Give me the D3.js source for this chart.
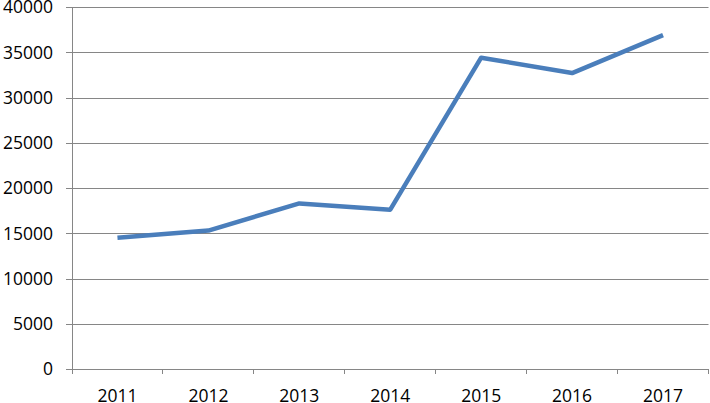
<!DOCTYPE html>
<html>
<head>
<meta charset="utf-8">
<script src="https://cdn.jsdelivr.net/npm/d3@7"></script>
<style>
  html, body { margin: 0; padding: 0; background: #fff; }
  svg { display: block; }
  text { font-family: "Open Sans", sans-serif; fill: #000; }
</style>
</head>
<body>
<svg id="chart" width="710" height="403"></svg>
<script>
// data
var years = ["2011", "2012", "2013", "2014", "2015", "2016", "2017"];
var values = [14500, 15300, 18300, 17600, 34400, 32700, 36900];
var yTicks = [0, 5000, 10000, 15000, 20000, 25000, 30000, 35000, 40000];

function plot() {
  var svg = d3.select("#chart");
  var mLeft = 72, mRight = 708.5, mTop = 7, mBottom = 369;

  var x = d3.scaleBand().domain(years).range([mLeft, mRight]);
  var y = d3.scaleLinear().domain([0, 40000]).range([mBottom, mTop]);

  // gridlines
  svg.append("g")
    .selectAll("line")
    .data(yTicks)
    .enter()
    .append("line")
    .attr("x1", mLeft - 6)
    .attr("x2", mRight)
    .attr("y1", function(d) { return Math.round(y(d)) + 0.5; })
    .attr("y2", function(d) { return Math.round(y(d)) + 0.5; })
    .attr("stroke", "#868686")
    .attr("stroke-width", 1);

  // y axis line
  svg.append("line")
    .attr("x1", mLeft + 0.5).attr("x2", mLeft + 0.5)
    .attr("y1", mTop).attr("y2", mBottom + 5)
    .attr("stroke", "#868686");

  // x ticks at band boundaries
  var bounds = years.map(function(d) { return x(d); }).concat([mRight]);
  svg.append("g")
    .selectAll("line")
    .data(bounds.slice(1))
    .enter()
    .append("line")
    .attr("x1", function(d) { return Math.round(d) - 0.5; })
    .attr("x2", function(d) { return Math.round(d) - 0.5; })
    .attr("y1", mBottom)
    .attr("y2", mBottom + 5)
    .attr("stroke", "#868686");

  // y labels
  svg.append("g")
    .selectAll("text")
    .data(yTicks)
    .enter()
    .append("text")
    .attr("x", 53)
    .attr("y", function(d) { return y(d); })
    .attr("dy", "0.36em")
    .attr("text-anchor", "end")
    .style("font-size", "17.5px")
    .text(function(d) { return d; });

  // x labels
  svg.append("g")
    .selectAll("text")
    .data(years)
    .enter()
    .append("text")
    .attr("x", function(d) { return x(d) + x.bandwidth() / 2; })
    .attr("y", 401.5)
    .attr("text-anchor", "middle")
    .style("font-size", "17.5px")
    .text(function(d) { return d; });

  // line
  var line = d3.line()
    .x(function(d, i) { return x(years[i]) + x.bandwidth() / 2; })
    .y(function(d) { return y(d); });

  svg.append("path")
    .datum(values)
    .attr("d", line)
    .attr("fill", "none")
    .attr("stroke", "#4a7ebb")
    .attr("stroke-width", 4.5)
    .attr("stroke-linejoin", "round")
    .attr("stroke-linecap", "butt");
}
plot();
</script>
</body>
</html>
